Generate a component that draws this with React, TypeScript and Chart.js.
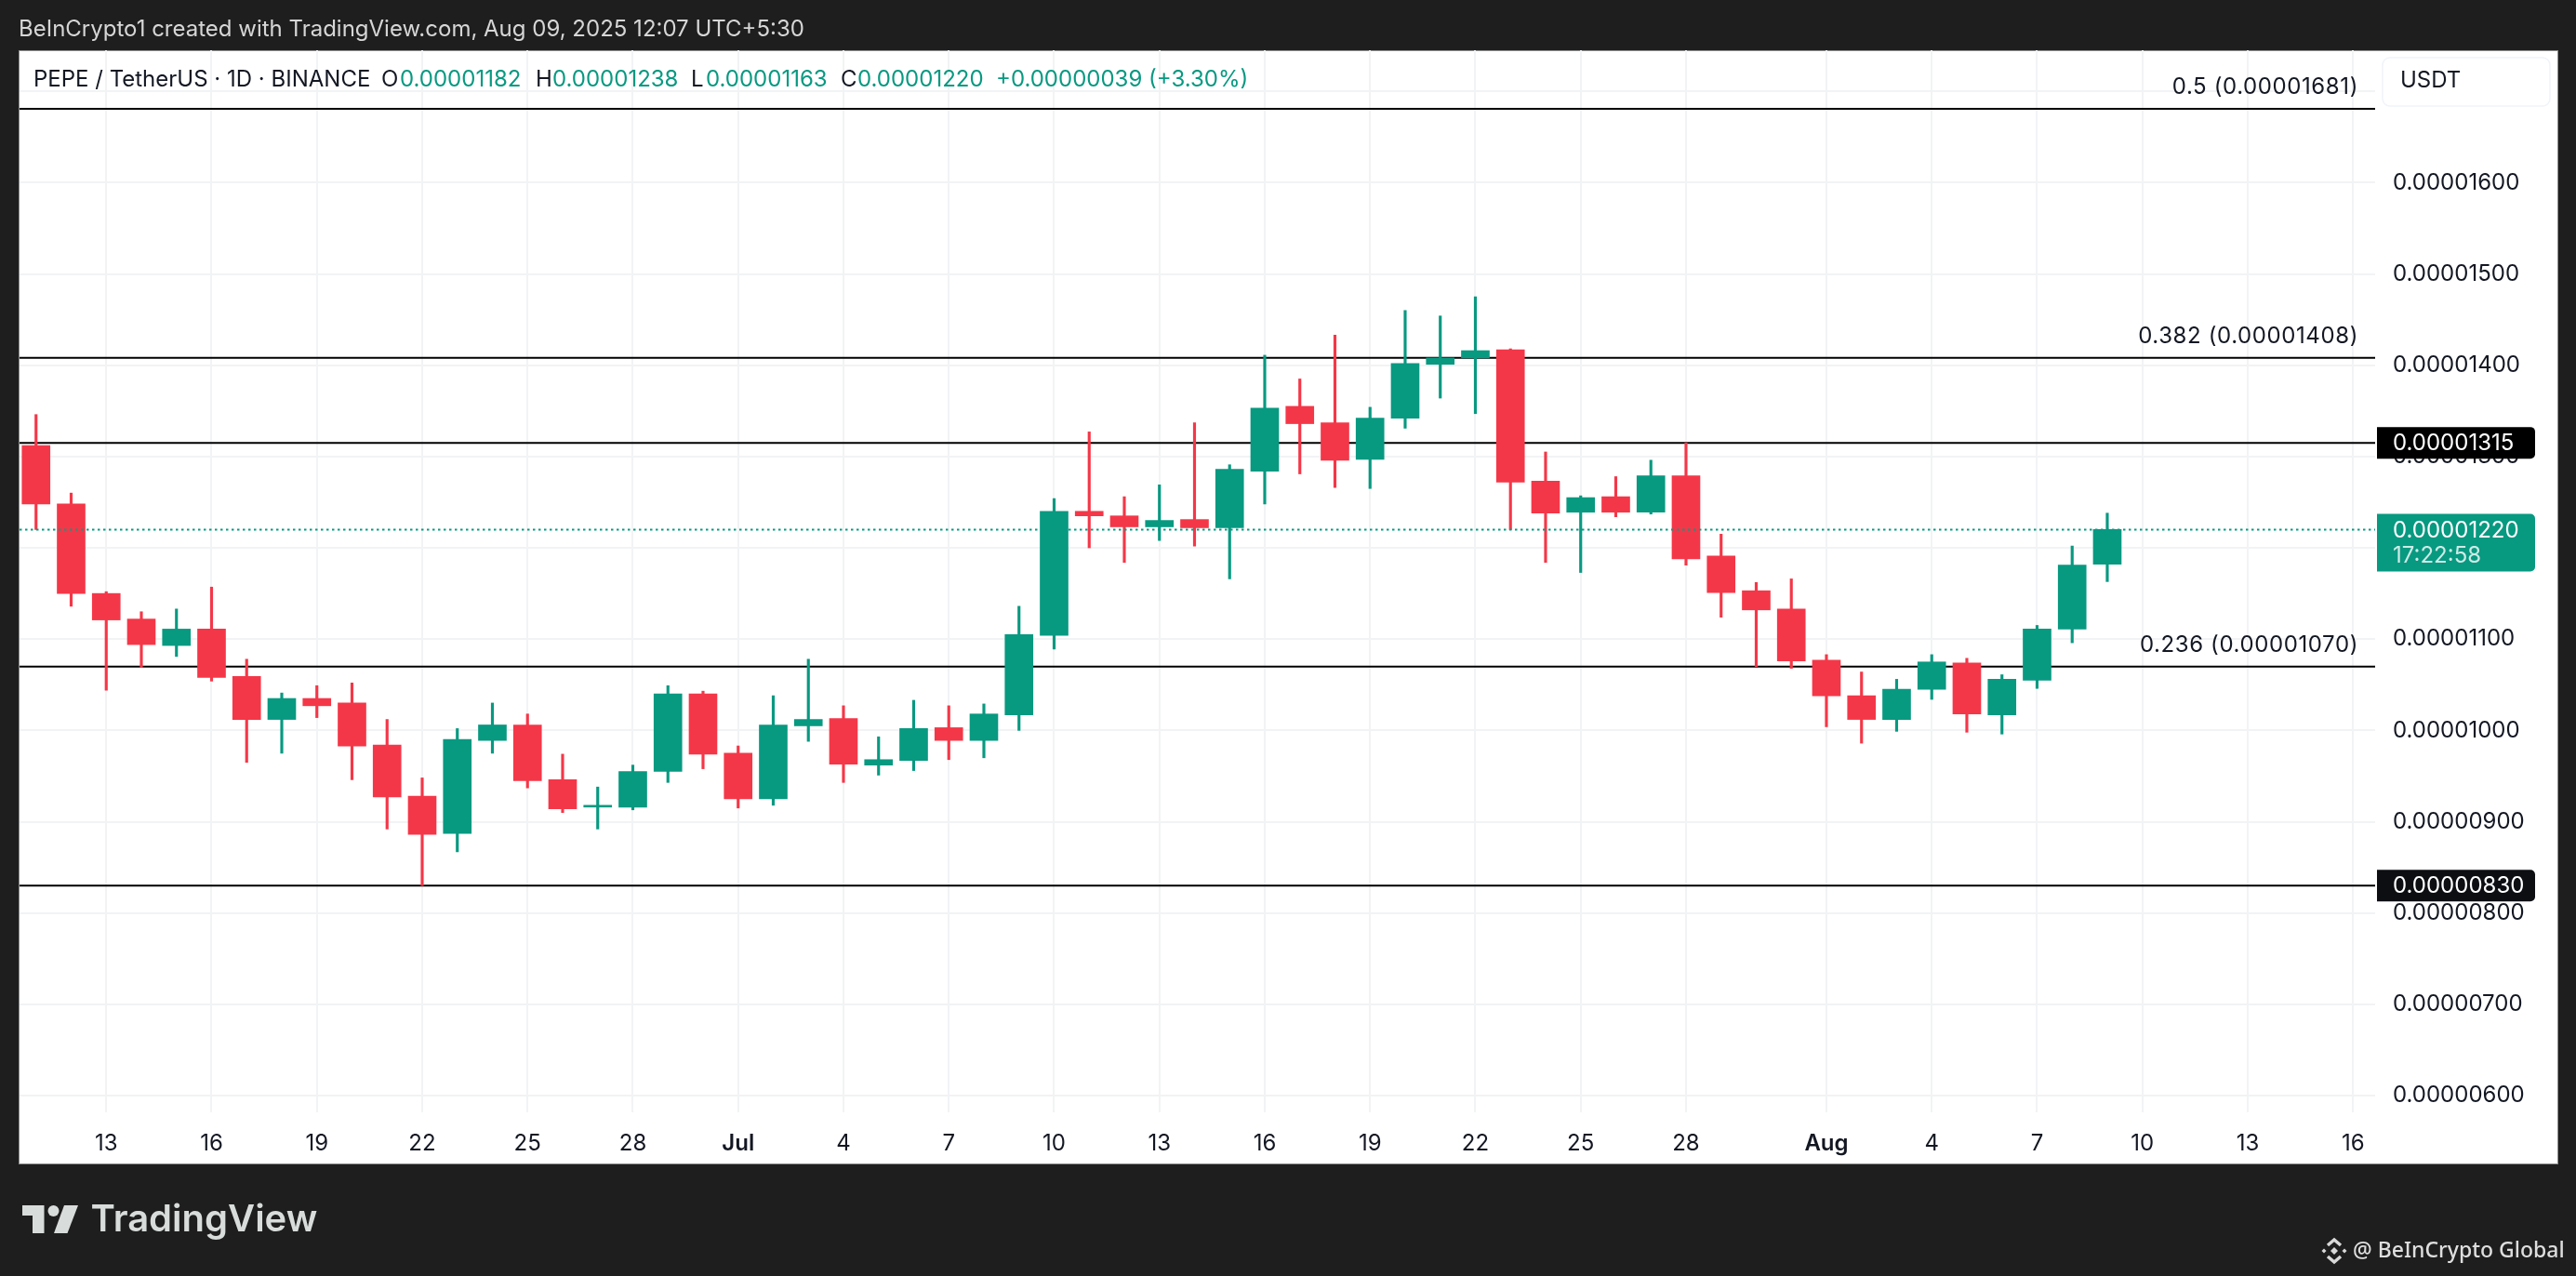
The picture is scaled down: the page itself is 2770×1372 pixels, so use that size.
import React, { useEffect, useRef } from "react";
import { Chart, registerables } from "chart.js";

Chart.register(...registerables);

const opens = [
  0.00001312, 0.00001248, 0.0000115, 0.00001122, 0.00001093, 0.00001111, 0.00001059, 0.00001012, 0.00001035, 0.0000103,
  0.00000984, 0.00000928, 0.00000887, 0.00000989, 0.00001006, 0.00000946, 0.00000916, 0.00000916, 0.00000955, 0.0000104,
  0.00000975, 0.00000925, 0.00001005, 0.00001013, 0.00000962, 0.00000967, 0.00001003, 0.00000989, 0.00001017, 0.00001104,
  0.0000124, 0.00001235, 0.00001223, 0.00001231, 0.00001222, 0.00001284, 0.00001355, 0.00001337, 0.00001297, 0.00001342,
  0.00001401, 0.00001408, 0.00001417, 0.00001273, 0.00001239, 0.00001256, 0.00001239, 0.00001279, 0.00001191, 0.00001153,
  0.00001133, 0.00001077, 0.00001038, 0.00001012, 0.00001045, 0.00001074, 0.00001017, 0.00001055, 0.00001111, 0.00001182,
];
const highs = [
  0.00001346, 0.0000126, 0.00001152, 0.0000113, 0.00001133, 0.00001157, 0.00001078, 0.00001041, 0.00001049, 0.00001052,
  0.00001012, 0.00000948, 0.00001002, 0.0000103, 0.00001018, 0.00000974, 0.00000938, 0.00000962, 0.00001049, 0.00001043,
  0.00000983, 0.00001038, 0.00001078, 0.00001027, 0.00000993, 0.00001033, 0.00001027, 0.00001029, 0.00001136, 0.00001254,
  0.00001327, 0.00001256, 0.00001269, 0.00001337, 0.00001291, 0.00001411, 0.00001385, 0.00001433, 0.00001354, 0.0000146,
  0.00001454, 0.00001475, 0.00001418, 0.00001305, 0.00001257, 0.00001278, 0.00001296, 0.00001315, 0.00001215, 0.00001162,
  0.00001166, 0.00001083, 0.00001064, 0.00001056, 0.00001083, 0.00001079, 0.00001061, 0.00001115, 0.00001202, 0.00001238,
];
const lows = [
  0.0000122, 0.00001136, 0.00001044, 0.00001069, 0.00001081, 0.00001054, 0.00000965, 0.00000975, 0.00001014, 0.00000946,
  0.00000892, 0.0000083, 0.00000867, 0.00000975, 0.00000937, 0.0000091, 0.00000892, 0.00000913, 0.00000943, 0.00000958,
  0.00000915, 0.00000918, 0.00000988, 0.00000943, 0.00000951, 0.00000956, 0.00000968, 0.0000097, 0.00001, 0.00001089,
  0.000012, 0.00001184, 0.00001208, 0.00001202, 0.00001166, 0.00001248, 0.00001281, 0.00001266, 0.00001265, 0.00001331,
  0.00001364, 0.00001347, 0.0000122, 0.00001184, 0.00001173, 0.00001234, 0.00001237, 0.00001181, 0.00001124, 0.0000107,
  0.00001068, 0.00001004, 0.00000986, 0.00000999, 0.00001034, 0.00000998, 0.00000996, 0.00001046, 0.00001096, 0.00001163,
];
const closes = [
  0.00001248, 0.0000115, 0.00001121, 0.00001094, 0.00001111, 0.00001058, 0.00001012, 0.00001035, 0.00001027, 0.00000983,
  0.00000927, 0.00000886, 0.0000099, 0.00001006, 0.00000945, 0.00000914, 0.00000918, 0.00000955, 0.0000104, 0.00000974,
  0.00000925, 0.00001006, 0.00001012, 0.00000963, 0.00000968, 0.00001002, 0.00000989, 0.00001018, 0.00001105, 0.0000124,
  0.00001235, 0.00001223, 0.0000123, 0.00001222, 0.00001286, 0.00001353, 0.00001336, 0.00001296, 0.00001342, 0.00001402,
  0.00001408, 0.00001416, 0.00001272, 0.00001238, 0.00001255, 0.00001239, 0.00001279, 0.00001188, 0.00001151, 0.00001132,
  0.00001076, 0.00001038, 0.00001012, 0.00001045, 0.00001075, 0.00001018, 0.00001056, 0.00001111, 0.00001181, 0.0000122,
];

const xTickIndexes = [2, 5, 8, 11, 14, 17, 20, 23, 26, 29, 32, 35, 38, 41, 44, 47, 51, 54, 57, 60, 63, 66];
const xTickLabels = ["13", "16", "19", "22", "25", "28", "Jul", "4", "7", "10", "13", "16", "19", "22", "25", "28", "Aug", "4", "7", "10", "13", "16"];
const yTickValues = [0.000006, 0.000007, 0.000008, 0.000009, 0.00001, 0.000011, 0.000012, 0.000013, 0.000014, 0.000015, 0.000016, 0.000017];
const hiddenYTick = 0.000017;

const fibLevels = [0.00001681, 0.00001408, 0.00001315, 0.0000107, 0.0000083];
const fibTexts = ["0.5 (0.00001681)", "0.382 (0.00001408)", "", "0.236 (0.00001070)", ""];
const priceTags = [0.00001315, 0.0000083];
const lastPrice = 0.0000122;
const countdown = "17:22:58";

const GREEN = "#089981";
const RED = "#F43748";
const INK = "#131722";
const FONT = "Inter, sans-serif";
const X_MIN = -0.47;
const X_MAX = 66.63;

const fmt = (v: number) => v.toFixed(8);

function put(ctx: any, s: string, x: number, y: number, font: string, color: string, align: any = "left", spacing = "0px") {
  ctx.font = font;
  ctx.fillStyle = color;
  ctx.textAlign = align;
  ctx.textBaseline = "middle";
  ctx.letterSpacing = spacing;
  ctx.fillText(s, x, y);
  ctx.letterSpacing = "0px";
}

function rightRounded(ctx: any, x: number, y: number, w: number, h: number, color: string) {
  ctx.fillStyle = color;
  ctx.beginPath();
  ctx.roundRect(x, y, w, h, [0, 5, 5, 0]);
  ctx.fill();
}

const chromeBack = {
  id: "chromeBack",
  beforeDraw(chart: any) {
    const ctx = chart.ctx;
    ctx.save();
    ctx.fillStyle = "#1E1E1E";
    ctx.fillRect(0, 0, 2770, 1372);
    ctx.fillStyle = "#FFFFFF";
    ctx.fillRect(20, 54, 2731, 1198);
    ctx.strokeStyle = "#8C8C8C";
    ctx.lineWidth = 1;
    ctx.strokeRect(20.5, 54.5, 2730, 1197);
    ctx.restore();
  },
};

const chromeFront = {
  id: "chromeFront",
  afterDraw(chart: any) {
    const ctx = chart.ctx;
    const y = chart.scales.y;
    ctx.save();

    // top caption
    put(ctx, "BeInCrypto1 created with TradingView.com, Aug 09, 2025 12:07 UTC+5:30", 20, 32, `24px ${FONT}`, "#D6D6D6");

    // legend row
    const lf = `24px ${FONT}`;
    put(ctx, "PEPE / TetherUS · 1D · BINANCE", 36, 86, lf, INK);
    put(ctx, "O", 410, 86, lf, INK);
    put(ctx, "0.00001182", 430, 86, lf, GREEN);
    put(ctx, "H", 576, 86, lf, INK);
    put(ctx, "0.00001238", 594, 86, lf, GREEN);
    put(ctx, "L", 743, 86, lf, INK);
    put(ctx, "0.00001163", 759, 86, lf, GREEN);
    put(ctx, "C", 904, 86, lf, INK);
    put(ctx, "0.00001220", 922, 86, lf, GREEN);
    put(ctx, "+0.00000039 (+3.30%)", 1071, 86, lf, GREEN);

    // fib labels
    fibLevels.forEach((lv, i) => {
      if (fibTexts[i]) put(ctx, fibTexts[i], 2536, y.getPixelForValue(lv) - 23, lf, INK, "right", "0.6px");
    });

    // currency box
    ctx.strokeStyle = "#F0F3FA";
    ctx.lineWidth = 1.5;
    ctx.beginPath();
    ctx.roundRect(2562, 62, 180, 52, 8);
    ctx.stroke();
    put(ctx, "USDT", 2581, 87, lf, INK);

    // price tags
    priceTags.forEach((p, i) => {
      const py = y.getPixelForValue(p);
      rightRounded(ctx, 2556, py - 17, 170, 34, i === 0 ? "#000000" : "#0C0E12");
      put(ctx, fmt(p), 2573, py + 1, lf, "#FFFFFF");
    });
    const ly = y.getPixelForValue(lastPrice);
    rightRounded(ctx, 2556, ly - 17, 170, 62, GREEN);
    put(ctx, fmt(lastPrice), 2573, ly + 1, lf, "#FFFFFF");
    put(ctx, countdown, 2573, ly + 28, lf, "rgba(255,255,255,0.8)");

    // TradingView logo
    ctx.fillStyle = "#D8DCDB";
    ctx.beginPath();
    ctx.moveTo(24, 1296);
    ctx.lineTo(47.5, 1296);
    ctx.lineTo(47.5, 1326);
    ctx.lineTo(35, 1326);
    ctx.lineTo(35, 1307);
    ctx.lineTo(24, 1307);
    ctx.closePath();
    ctx.fill();
    ctx.beginPath();
    ctx.arc(57.5, 1302, 6, 0, Math.PI * 2);
    ctx.fill();
    ctx.beginPath();
    ctx.moveTo(69, 1296);
    ctx.lineTo(84, 1296);
    ctx.lineTo(72.5, 1326);
    ctx.lineTo(58, 1326);
    ctx.closePath();
    ctx.fill();
    put(ctx, "TradingView", 97.5, 1311.5, `600 40px ${FONT}`, "#D8DCDB");

    // BeInCrypto mark
    const cx = 2510;
    const cy = 1345;
    ctx.fillStyle = "#D9D9D9";
    const diamond = (dx: number, dy: number, r: number) => {
      ctx.beginPath();
      ctx.moveTo(cx + dx, cy + dy - r);
      ctx.lineTo(cx + dx + r, cy + dy);
      ctx.lineTo(cx + dx, cy + dy + r);
      ctx.lineTo(cx + dx - r, cy + dy);
      ctx.closePath();
      ctx.fill();
    };
    diamond(0, 0, 4);
    diamond(-11, 0, 2.5);
    diamond(11, 0, 2.5);
    ctx.strokeStyle = "#D9D9D9";
    ctx.lineWidth = 3.5;
    ctx.beginPath();
    ctx.moveTo(cx - 7, cy - 6);
    ctx.lineTo(cx, cy - 12);
    ctx.lineTo(cx + 7, cy - 6);
    ctx.moveTo(cx - 7, cy + 6);
    ctx.lineTo(cx, cy + 12);
    ctx.lineTo(cx + 7, cy + 6);
    ctx.stroke();
    put(ctx, "@ BeInCrypto Global", 2530, 1345, `500 23px "Noto Sans", sans-serif`, "#DEDEDE");

    ctx.restore();
  },
};

export default function App() {
  const ref = useRef<HTMLCanvasElement>(null);

  useEffect(() => {
    const indexes = opens.map((_, i) => i);
    const colors = opens.map((o, i) => (closes[i] >= o ? GREEN : RED));

    const datasets: any[] = [
      {
        type: "line",
        label: "Last price",
        data: [
          { x: X_MIN, y: lastPrice },
          { x: X_MAX, y: lastPrice },
        ],
        borderColor: GREEN,
        borderWidth: 2,
        borderDash: [2.5, 3.5],
        pointRadius: 0,
        order: 0,
      },
      {
        label: "Body",
        data: indexes.map((i) => ({ x: i, y: [opens[i], closes[i]] })),
        backgroundColor: colors,
        borderWidth: 0,
        barThickness: 30,
        grouped: false,
        order: 1,
      },
      {
        label: "Wick",
        data: indexes.map((i) => ({ x: i, y: [lows[i], highs[i]] })),
        backgroundColor: colors,
        borderWidth: 0,
        barThickness: 2.5,
        grouped: false,
        order: 2,
      },
      ...fibLevels.map((lv, i) => ({
        type: "line",
        label: `Level ${i}`,
        data: [
          { x: X_MIN, y: lv },
          { x: X_MAX, y: lv },
        ],
        borderColor: "#000000",
        borderWidth: 2,
        pointRadius: 0,
        order: 3,
      })),
    ];

    const chart = new Chart(ref.current as HTMLCanvasElement, {
      type: "bar",
      data: { datasets },
      plugins: [chromeBack, chromeFront],
      options: {
        responsive: false,
        animation: false,
        devicePixelRatio: 1,
        layout: { padding: { left: 21, top: 54, right: 20, bottom: 121 } },
        plugins: { legend: { display: false }, tooltip: { enabled: false } },
        scales: {
          x: {
            type: "linear",
            offset: false,
            min: X_MIN,
            max: X_MAX,
            afterBuildTicks: (s: any) => {
              s.ticks = xTickIndexes.map((value) => ({ value }));
            },
            afterFit: (s: any) => {
              s.height = 55;
            },
            grid: { offset: false, color: "#F2F3F4", lineWidth: 2, drawTicks: false },
            border: { display: false },
            ticks: {
              autoSkip: false,
              maxRotation: 0,
              padding: 19,
              color: INK,
              font: (c: any) => ({
                family: FONT,
                size: 24,
                weight: ["Jul", "Aug"].includes(xTickLabels[c.index]) ? "600" : "400",
              }),
              callback: (v: any) => xTickLabels[xTickIndexes.indexOf(v)] ?? "",
            },
          },
          y: {
            type: "linear",
            position: "right",
            min: 0.0000058167,
            max: 0.0000174507,
            afterBuildTicks: (s: any) => {
              s.ticks = yTickValues.map((value) => ({ value }));
            },
            afterFit: (s: any) => {
              s.width = 196;
            },
            grid: { color: "#F2F3F4", lineWidth: 2, drawTicks: false },
            border: { display: false },
            ticks: {
              autoSkip: false,
              crossAlign: "near",
              padding: 19,
              color: INK,
              font: { family: FONT, size: 24 },
              callback: (v: any) => (v === hiddenYTick ? "" : fmt(v)),
            },
          },
        },
      } as any,
    } as any);

    return () => chart.destroy();
  }, []);

  return (
    <canvas
      ref={ref}
      width={2770}
      height={1372}
      style={{ position: "absolute", left: 0, top: 0, width: 2770, height: 1372, display: "block" }}
    />
  );
}
